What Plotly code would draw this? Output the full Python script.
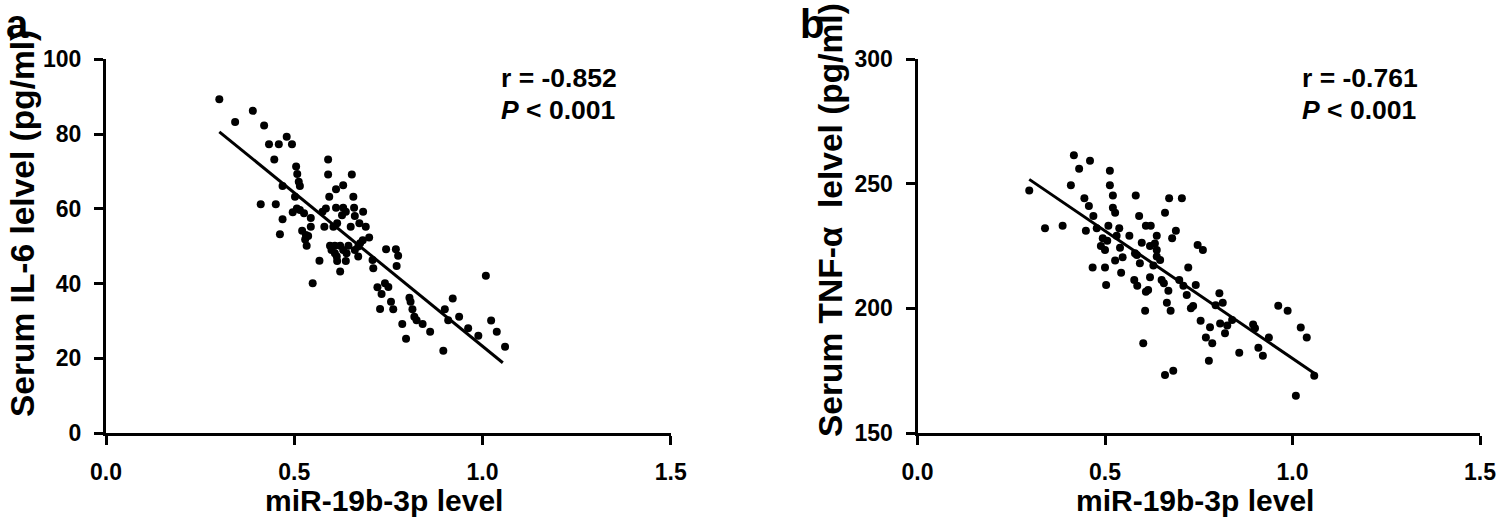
import plotly.graph_objects as go

# ---------------- data ----------------
# Panel a: miR-19b-3p level vs serum IL-6 (pg/ml)
a_x = [0.301, 0.343, 0.390, 0.420, 0.433, 0.459, 0.480, 0.494, 0.447, 0.590,
       0.505, 0.508, 0.512, 0.515, 0.590, 0.653, 0.611, 0.630, 0.469, 0.593,
       0.657, 0.502, 0.411, 0.451, 0.507, 0.496, 0.515, 0.526, 0.584, 0.575,
       0.611, 0.630, 0.637, 0.659, 0.683, 0.627, 0.661, 0.469, 0.544, 0.544,
       0.580, 0.614, 0.604, 0.650, 0.673, 0.690, 0.521, 0.462, 0.531, 0.537,
       0.529, 0.699, 0.533, 0.595, 0.608, 0.622, 0.644, 0.675, 0.682, 0.599,
       0.608, 0.630, 0.661, 0.670, 0.613, 0.639, 0.637, 0.614, 0.670, 0.567,
       0.622, 0.708, 0.710, 0.744, 0.770, 0.776, 0.772, 0.732, 0.741, 0.750,
       0.728, 0.757, 0.763, 0.806, 0.809, 0.814, 0.819, 0.825, 0.841, 0.787,
       0.861, 0.797, 0.896, 0.900, 0.921, 0.909, 0.938, 0.962, 0.989, 1.009,
       1.023, 1.038, 1.060, 0.549, 0.721]
a_y = [89.3, 83.2, 86.2, 82.3, 77.3, 77.3, 79.3, 77.3, 73.2, 73.2,
       71.3, 69.3, 67.2, 66.1, 69.2, 69.2, 65.2, 66.3, 66.1, 63.2,
       63.2, 63.2, 61.2, 61.2, 60.1, 59.1, 59.7, 58.8, 60.1, 59.2,
       60.3, 60.3, 59.2, 60.3, 59.2, 58.3, 58.1, 57.2, 57.5, 55.2,
       55.2, 56.1, 55.2, 55.2, 56.1, 55.2, 54.1, 53.2, 53.0, 52.7,
       51.8, 52.3, 50.1, 50.1, 50.1, 50.1, 50.1, 50.8, 51.6, 49.0,
       48.1, 49.0, 49.0, 49.9, 47.2, 48.1, 46.0, 46.0, 47.2, 46.1,
       43.2, 46.3, 44.1, 49.2, 49.2, 47.4, 44.7, 37.2, 40.1, 39.1,
       33.2, 35.1, 33.1, 36.2, 35.1, 33.1, 31.1, 30.2, 29.2, 29.2,
       27.1, 25.2, 22.0, 33.1, 36.0, 30.2, 31.1, 28.0, 26.0, 42.1,
       30.1, 27.1, 23.1, 40.1, 39.0]
a_fit_x = [0.301, 1.054]
a_fit_y = [80.6, 18.8]

# Panel b: miR-19b-3p level vs serum TNF-alpha (pg/ml)
b_x = [0.298, 0.417, 0.431, 0.460, 0.513, 0.409, 0.513, 0.521, 0.445, 0.457,
       0.469, 0.521, 0.527, 0.582, 0.671, 0.705, 0.660, 0.591, 0.340, 0.387,
       0.449, 0.478, 0.509, 0.538, 0.609, 0.622, 0.689, 0.679, 0.531, 0.565,
       0.638, 0.494, 0.506, 0.489, 0.500, 0.540, 0.598, 0.620, 0.633, 0.638,
       0.580, 0.585, 0.638, 0.647, 0.547, 0.527, 0.593, 0.629, 0.467, 0.500,
       0.543, 0.722, 0.620, 0.651, 0.657, 0.578, 0.586, 0.503, 0.609, 0.615,
       0.669, 0.698, 0.709, 0.742, 0.718, 0.747, 0.761, 0.805, 0.665, 0.675,
       0.735, 0.729, 0.795, 0.814, 0.755, 0.780, 0.807, 0.826, 0.820, 0.839,
       0.769, 0.786, 0.895, 0.900, 0.937, 0.909, 0.921, 0.858, 0.777, 0.962,
       0.987, 1.022, 1.038, 1.058, 1.009, 0.660, 0.682, 0.607, 0.602]
b_y = [247.3, 261.5, 256.1, 259.3, 255.3, 249.4, 249.4, 245.3, 244.2, 241.1,
       237.1, 240.4, 238.4, 245.3, 244.2, 244.2, 238.4, 237.1, 232.2, 233.2,
       231.2, 232.2, 233.2, 232.2, 233.2, 233.2, 231.2, 228.2, 229.2, 229.2,
       229.2, 228.2, 227.2, 225.1, 223.5, 224.4, 226.4, 225.1, 226.1, 223.5,
       222.1, 221.4, 220.8, 219.4, 220.5, 219.2, 218.1, 217.2, 216.4, 216.4,
       214.3, 216.4, 212.5, 211.4, 210.1, 211.4, 209.1, 209.4, 206.7, 207.4,
       207.1, 211.4, 209.1, 209.4, 205.4, 225.5, 223.5, 206.1, 202.3, 199.1,
       201.0, 200.1, 201.3, 202.3, 195.1, 192.4, 194.0, 193.1, 190.0, 195.4,
       188.3, 186.0, 193.6, 192.0, 188.3, 184.2, 181.0, 182.2, 179.0, 201.1,
       199.1, 192.3, 188.3, 173.0, 165.0, 173.3, 175.0, 199.1, 186.0]
b_fit_x = [0.298, 1.058]
b_fit_y = [251.8, 174.0]

x_ticks = [0.0, 0.5, 1.0, 1.5]
a_y_ticks = [0, 20, 40, 60, 80, 100]
b_y_ticks = [150, 200, 250, 300]

# ---------------- figure ----------------
W, H = 1500, 522
FONT = "Liberation Sans, Arial, Helvetica, sans-serif"


def fx(p):
    return p / W


def fy(p):
    return 1 - p / H


fig = go.Figure()
fig.add_trace(go.Scatter(x=a_x, y=a_y, mode="markers", xaxis="x", yaxis="y",
                         marker=dict(color="black", size=8, line=dict(width=0)),
                         showlegend=False))
fig.add_trace(go.Scatter(x=a_fit_x, y=a_fit_y, mode="lines", xaxis="x", yaxis="y",
                         line=dict(color="black", width=3), showlegend=False))
fig.add_trace(go.Scatter(x=b_x, y=b_y, mode="markers", xaxis="x2", yaxis="y2",
                         marker=dict(color="black", size=8, line=dict(width=0)),
                         showlegend=False))
fig.add_trace(go.Scatter(x=b_fit_x, y=b_fit_y, mode="lines", xaxis="x2", yaxis="y2",
                         line=dict(color="black", width=3), showlegend=False))

tickfont = dict(family=FONT, size=23, color="black", weight="bold")
common = dict(showline=True, linecolor="black", linewidth=3, ticks="outside",
              ticklen=9, tickwidth=3, tickcolor="black", showgrid=False,
              zeroline=False, tickfont=tickfont, automargin=False)

ydom = [fy(433), fy(59.3)]
fig.update_layout(
    template="none",
    width=W, height=H,
    margin=dict(l=0, r=0, t=0, b=0, pad=0, autoexpand=False),
    paper_bgcolor="white", plot_bgcolor="white",
    xaxis=dict(domain=[fx(106), fx(670.7)], range=[0, 1.5], tickvals=x_ticks,
               tickformat=".1f", anchor="y", ticklabelstandoff=7, **common),
    yaxis=dict(domain=ydom, range=[0, 100], tickvals=a_y_ticks, anchor="x",
               ticklabelstandoff=8, **common),
    xaxis2=dict(domain=[fx(917.5), fx(1480)], range=[0, 1.5], tickvals=x_ticks,
                tickformat=".1f", anchor="y2", ticklabelstandoff=7, **common),
    yaxis2=dict(domain=ydom, range=[150, 300], tickvals=b_y_ticks, anchor="x2",
                ticklabelstandoff=8, **common),
)

bold = lambda s: dict(family=FONT, size=s, color="black", weight="bold")
ann = []
# panel letters
ann.append(dict(text="a", x=fx(5), y=fy(0.5), xanchor="left", yanchor="top",
                borderpad=0, font=bold(40)))
ann.append(dict(text="b", x=fx(799), y=fy(0.5), xanchor="left", yanchor="top",
                borderpad=0, font=bold(40)))
# y axis titles
ann.append(dict(text="Serum IL-6 lelvel (pg/ml)", x=fx(22), y=fy(224),
                xanchor="center", yanchor="middle", textangle=-90, font=bold(33.5)))
ann.append(dict(text="Serum TNF-\u03b1\u00a0 lelvel (pg/ml)", x=fx(830), y=fy(220),
                xanchor="center", yanchor="middle", textangle=-90, font=bold(33.5)))
# x axis titles
ann.append(dict(text="miR-19b-3p level", x=fx(384), y=fy(500),
                xanchor="center", yanchor="middle", font=bold(30)))
ann.append(dict(text="miR-19b-3p level", x=fx(1195), y=fy(500),
                xanchor="center", yanchor="middle", font=bold(30)))
# statistics
ann.append(dict(text="r = -0.852", x=fx(499), y=fy(78), xanchor="left",
                yanchor="middle", font=bold(26.5)))
ann.append(dict(text="<i>P</i> &lt; 0.001", x=fx(499), y=fy(110), xanchor="left",
                yanchor="middle", font=bold(26.5)))
ann.append(dict(text="r = -0.761", x=fx(1300), y=fy(78), xanchor="left",
                yanchor="middle", font=bold(26.5)))
ann.append(dict(text="<i>P</i> &lt; 0.001", x=fx(1300), y=fy(110), xanchor="left",
                yanchor="middle", font=bold(26.5)))
for a in ann:
    a.update(xref="paper", yref="paper", showarrow=False)
fig.update_layout(annotations=ann)

fig.write_html("out.html",
               config={"displayModeBar": False},
               post_script="document.body.style.margin='0px';"
                           "document.body.style.overflow='hidden';")
